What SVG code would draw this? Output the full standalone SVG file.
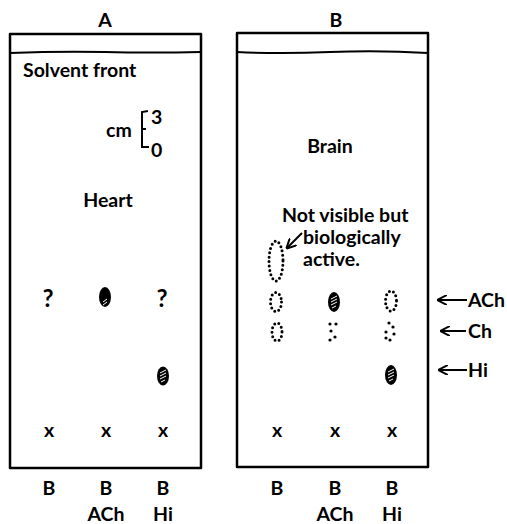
<svg xmlns="http://www.w3.org/2000/svg" width="507" height="524" viewBox="0 0 507 524">
<style>
.t{font-family:Lato,"Open Sans","DejaVu Sans",sans-serif;font-weight:700;font-size:19.5px;fill:#000}
.c{text-anchor:middle}
.q{font-size:24px}
.frame{fill:none;stroke:#000;stroke-width:2.5;stroke-linejoin:round}
.band{fill:none;stroke:#000;stroke-width:2}
.spot{fill:#000}
.hatch{fill:none;stroke:#fff;stroke-width:1}
.dot{fill:none;stroke:#000;stroke-width:3;stroke-linecap:round;stroke-dasharray:0 4.4}
.ln{fill:none;stroke:#000;stroke-width:2}
</style>
<defs>
<marker id="ah" viewBox="0 0 10 10" refX="9" refY="5" markerWidth="10" markerHeight="10" markerUnits="userSpaceOnUse" orient="auto">
<path d="M0,0 L10,5 L0,10" fill="none" stroke="#000" stroke-width="2"/>
</marker>
</defs>
<rect width="507" height="524" fill="#fff"/>

<g id="panelA">
<text class="t c" x="105" y="27">A</text>
<rect class="frame" x="10" y="34" width="191" height="434"/>
<path class="band" d="M10,53 Q60,51 105,52 T201,52"/>
<text class="t" x="23" y="77">Solvent front</text>
<text class="t" x="106" y="137">cm</text>
<path class="ln" d="M148,111 L142,112 L142,147 L149,147 M142,129 L146,129"/>
<text class="t" x="151" y="124" font-size="17">3</text>
<text class="t" x="151" y="157" font-size="17">0</text>
<text class="t c" x="108" y="207">Heart</text>
<text class="t c q" x="48" y="307">?</text>
<g id="A-ACh-spot"><ellipse class="spot" cx="105" cy="297" rx="6" ry="10"/><path class="hatch" d="M103,302 L107,299 M103,305 L107,302"/></g>
<text class="t c q" x="162" y="307">?</text>
<g id="A-Hi-spot"><ellipse class="spot" cx="163" cy="376" rx="6" ry="9.5"/><path class="hatch" d="M160,373 L166,370 M160,376 L166,373 M160,379 L166,376 M161,382 L165,380"/></g>
<text class="t c" x="49" y="437">x</text>
<text class="t c" x="106" y="437">x</text>
<text class="t c" x="163" y="437">x</text>
<text class="t c" x="49" y="495">B</text>
<text class="t c" x="106" y="495">B</text>
<text class="t c" x="163" y="495">B</text>
<text class="t c" x="106" y="521">ACh</text>
<text class="t c" x="163" y="521">Hi</text>
</g>

<g id="panelB">
<text class="t c" x="336" y="27">B</text>
<rect class="frame" x="237" y="33" width="191" height="434"/>
<path class="band" d="M237,52 Q280,54 330,52 T428,53"/>
<text class="t c" x="330" y="153">Brain</text>
<text class="t" x="282" y="222">Not visible but</text>
<text class="t" x="303" y="244">biologically</text>
<text class="t" x="303" y="266">active.</text>
<ellipse class="dot" cx="276" cy="261" rx="7" ry="20"/>
<g id="B-B-ACh"><ellipse class="dot" cx="276" cy="302" rx="5.5" ry="9.5"/></g>
<g id="B-ACh-spot"><ellipse class="spot" cx="334" cy="302" rx="6" ry="10"/><path class="hatch" d="M331,299 L337,296 M331,302 L337,299 M331,305 L337,302 M332,308 L336,306"/></g>
<g id="B-Hi-ACh"><ellipse class="dot" cx="391" cy="301" rx="5.5" ry="10"/></g>
<g id="B-Ch-dots">
<ellipse class="dot" cx="277" cy="332" rx="5" ry="9"/>
<circle cx="330" cy="324" r="1.6"/><circle cx="336" cy="324" r="1.6"/><circle cx="331" cy="331" r="1.6"/><circle cx="335" cy="337" r="1.6"/><circle cx="330" cy="340" r="1.6"/>
<circle cx="389" cy="323" r="1.6"/><circle cx="393" cy="327" r="1.6"/><circle cx="386" cy="332" r="1.6"/><circle cx="394" cy="334" r="1.6"/><circle cx="390" cy="340" r="1.6"/><circle cx="386" cy="338" r="1.6"/>
</g>
<g id="B-Hi-spot"><ellipse class="spot" cx="391" cy="375" rx="6" ry="10"/><path class="hatch" d="M388,372 L394,369 M388,375 L394,372 M388,378 L394,375 M389,381 L393,379"/></g>
<text class="t c" x="277" y="437">x</text>
<text class="t c" x="335" y="437">x</text>
<text class="t c" x="392" y="437">x</text>
<text class="t c" x="277" y="495">B</text>
<text class="t c" x="335" y="495">B</text>
<text class="t c" x="392" y="495">B</text>
<text class="t c" x="335" y="521">ACh</text>
<text class="t c" x="392" y="521">Hi</text>
<text class="t" x="468" y="307">ACh</text>
<text class="t" x="468" y="338">Ch</text>
<text class="t" x="468" y="377">Hi</text>
</g>

<g id="connectors">
<line class="ln" x1="302" y1="233" x2="287" y2="248" marker-end="url(#ah)"/>
<line class="ln" x1="467" y1="300" x2="438" y2="300" marker-end="url(#ah)"/>
<line class="ln" x1="466" y1="331" x2="441" y2="331" marker-end="url(#ah)"/>
<line class="ln" x1="467" y1="370" x2="439" y2="370" marker-end="url(#ah)"/>
</g>
</svg>
